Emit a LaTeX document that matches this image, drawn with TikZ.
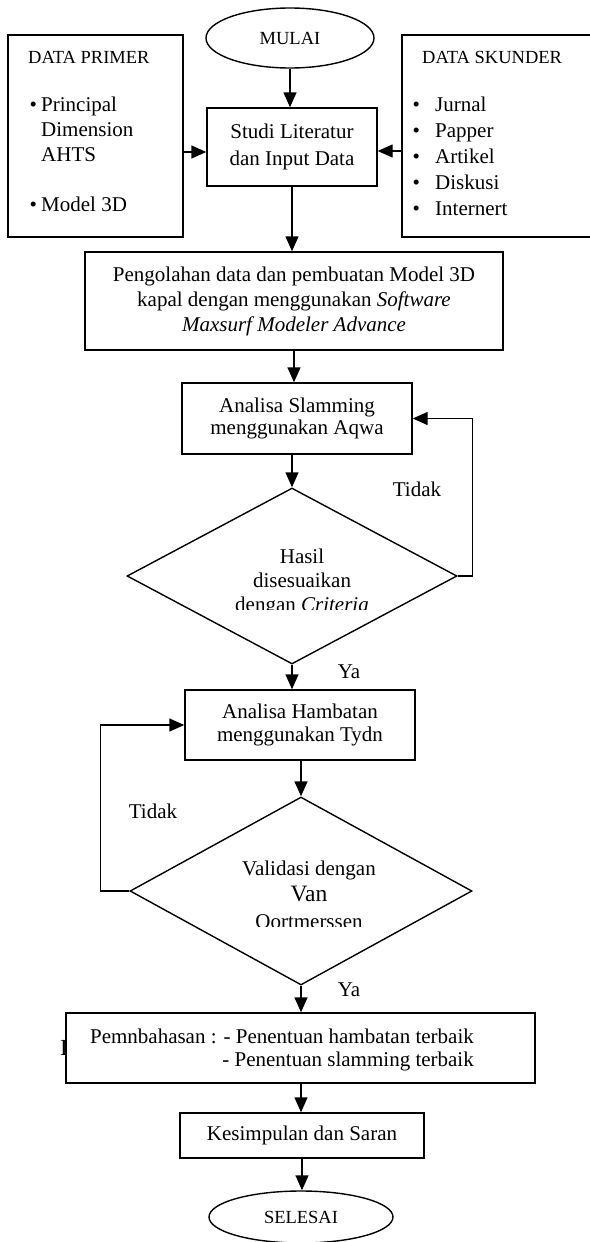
\documentclass[tikz,border=0pt]{standalone}
\usepackage{fontspec}
\setmainfont{Liberation Serif}
\usetikzlibrary{shapes.geometric,arrows.meta,calc}

\newcommand{\blt}[1]{\makebox[#1][l]{\textbullet}}

\tikzset{
  txt/.style={font=\fontsize{21}{24}\selectfont, inner sep=0pt},
  small/.style={font=\fontsize{18.5}{24}\selectfont},
  process/.style={txt, draw, line width=1.4pt, rectangle, align=center, fill=white},
  terminal/.style={txt, small, draw, line width=1.4pt, ellipse, fill=white},
  decision/.style={draw, line width=1.4pt, diamond, inner sep=0pt},
  arr/.style={line width=1.4pt, -{Triangle[length=15pt,width=13pt]}},
}

\begin{document}
\begin{tikzpicture}[x=1pt,y=-1pt]
  \useasboundingbox (0,0) rectangle (589,1242);

  \node[terminal, minimum width=168pt, minimum height=60pt] (mulai) at (290,38) {MULAI};

  \node[process, minimum width=175pt, minimum height=202pt] (primer) at (95.5,136) {};
  \node[txt, small, anchor=west] (primertitle) at (28,57) {DATA PRIMER};
  \node[txt, anchor=north west, align=left, font=\fontsize{21}{25}\selectfont] (primerlist) at (29.3,97)
    {\blt{11.7pt}Principal\\ \hspace{11.7pt}Dimension\\ \hspace{11.7pt}AHTS\\[25pt] \blt{11.7pt}Model 3D};

  \node[process, minimum width=193pt, minimum height=202pt] (skunder) at (498.5,136) {};
  \node[txt, small, anchor=west] (skundertitle) at (422,57) {DATA SKUNDER};
  \node[txt, anchor=north west, align=left, font=\fontsize{21}{26}\selectfont] (skunderlist) at (412.3,97)
    {\blt{22.7pt}Jurnal\\ \blt{22.7pt}Papper\\ \blt{22.7pt}Artikel\\ \blt{22.7pt}Diskusi\\ \blt{22.7pt}Internert};

  \node[process, font=\fontsize{21}{27}\selectfont, minimum width=170pt, minimum height=78pt] (studi) at (292,147)
    {Studi Literatur\\ dan Input Data};
  \node[process, font=\fontsize{21}{25}\selectfont, minimum width=418pt, minimum height=98pt] (olah) at (294,301)
    {Pengolahan data dan pembuatan Model 3D\\ kapal dengan menggunakan \textit{Software}\\ \textit{Maxsurf Modeler Advance}};
  \node[process, font=\fontsize{21}{22.5}\selectfont, minimum width=230pt, minimum height=71pt] (slam) at (297,418.5)
    {Analisa Slamming\\ menggunakan Aqwa};

  \node[decision, minimum width=330pt, minimum height=176pt] (dia1) at (292,576) {};
  \begin{scope}
    \clip (120,530) rectangle (470,609.5);
    \node[txt, align=center] (hasil) at (302,582) {Hasil\\ disesuaikan\\ dengan \textit{Criteria}};
  \end{scope}

  \node[process, font=\fontsize{21}{23}\selectfont, minimum width=230pt, minimum height=70pt] (hambat) at (300,725)
    {Analisa Hambatan\\ menggunakan Tydn};

  \node[decision, minimum width=342pt, minimum height=188pt] (dia2) at (301,891) {};
  \begin{scope}
    \clip (120,840) rectangle (480,926.5);
    \node[txt, align=center, font=\fontsize{21}{26.5}\selectfont] (valid) at (309,894.5)
      {Validasi dengan\\ {\fontsize{23.5}{26.5}\selectfont Van}\\ Oortmerssen};
  \end{scope}

  \node[txt] (stray) at (64,1048) {\fontsize{23}{23}\selectfont I};
  \node[process, minimum width=469pt, minimum height=70pt] (bahas) at (300.5,1048) {};
  \node[txt, anchor=east, align=right, font=\fontsize{21}{23}\selectfont] (bahastext) at (474,1049.5)
    {Pemnbahasan : - Penentuan hambatan terbaik\\ - Penentuan slamming terbaik};

  \node[process, minimum width=244pt, minimum height=45pt] (simpul) at (302,1135.5) {Kesimpulan dan Saran};
  \node[terminal, minimum width=184pt, minimum height=52pt] (selesai) at (301,1217) {SELESAI};

  \node[txt] (tidak1) at (417,489) {Tidak};
  \node[txt] (ya1) at (349,672) {Ya};
  \node[txt] (tidak2) at (153,811) {Tidak};
  \node[txt] (ya2) at (349,990) {Ya};

  \draw[arr] (mulai) -- (mulai |- studi.north);
  \draw[arr] ($(primer.east |- studi.west)+(0,5)$) -- ($(studi.west)+(0,5)$);
  \draw[arr] ($(skunder.west |- studi.east)+(0,4)$) -- ($(studi.east)+(0,4)$);
  \draw[arr] (studi) -- (studi |- olah.north);
  \draw[arr] (olah) -- (olah |- slam.north);
  \draw[arr] (slam.south -| dia1.north) -- (dia1.north);
  \draw[arr] (dia1.east) -- ++(15,0) |- (slam.east);
  \draw[arr] (dia1.south) -- (dia1.south |- hambat.north);
  \draw[arr] (hambat.south -| dia2.north) -- (dia2.north);
  \draw[arr] (dia2.west) -- ++(-29,0) |- (hambat.west);
  \draw[arr] (dia2.south) -- (dia2.south |- bahas.north);
  \draw[arr] (dia2.south |- bahas.south) -- (dia2.south |- simpul.north);
  \draw[arr] (simpul) -- (simpul |- selesai.north);
\end{tikzpicture}
\end{document}
